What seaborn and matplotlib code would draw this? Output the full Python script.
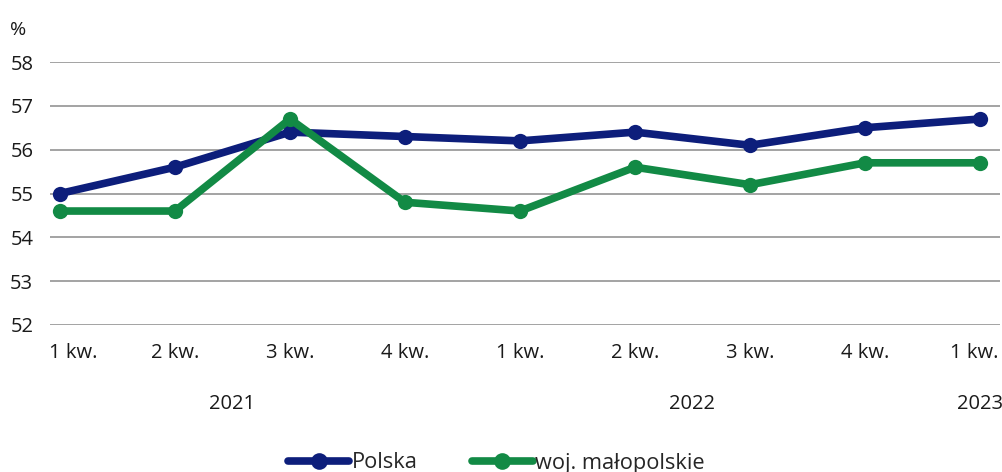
import pandas as pd
import matplotlib.pyplot as plt
import matplotlib.transforms as mtransforms
import seaborn as sns

# dane kwartalne
kwartaly = ["1 kw.", "2 kw.", "3 kw.", "4 kw.", "1 kw.", "2 kw.", "3 kw.", "4 kw.", "1 kw."]
lata = ["2021", "2022", "2023"]
lata_pozycje = [1.5, 5.5, 8]
polska = [55.0, 55.6, 56.4, 56.3, 56.2, 56.4, 56.1, 56.5, 56.7]
malopolskie = [54.6, 54.6, 56.7, 54.8, 54.6, 55.6, 55.2, 55.7, 55.7]

df = pd.DataFrame({
    "idx": list(range(len(kwartaly))) * 2,
    "wartosc": polska + malopolskie,
    "seria": ["Polska"] * len(polska) + ["woj. małopolskie"] * len(malopolskie),
})

sns.set_style("white")
plt.rcParams["font.family"] = ["Open Sans", "DejaVu Sans"]

fig = plt.figure(figsize=(10.03, 4.72), dpi=100)
ax = fig.add_axes([50 / 1003, 1 - 325 / 472, 950 / 1003, (325 - 62) / 472])

kolory = {"Polska": "#0d1e7b", "woj. małopolskie": "#128a45"}
sns.lineplot(data=df, x="idx", y="wartosc", hue="seria", palette=kolory,
             marker="o", markersize=11, linewidth=5.5, markeredgewidth=0,
             ax=ax, legend=False)

ax.set_ylim(52, 58)
ax.set_xlim(-10 / 115, 8 + 20 / 115)
ax.set_yticks(range(52, 59))
ax.yaxis.grid(True, color="#8a8a8a", linewidth=1.1)
ax.set_axisbelow(True)
for s in ax.spines.values():
    s.set_visible(False)
ax.set_xticks(range(len(kwartaly)))
ax.set_xticklabels(kwartaly)
ax.tick_params(axis="both", length=0, labelsize=14.5, colors="#1a1a1a")
ax.tick_params(axis="x", pad=13)
ax.tick_params(axis="y", pad=12)
# pierwsza i ostatnia etykieta lekko przesunięte, jak w oryginale
etyk = ax.get_xticklabels()
etyk[0].set_transform(etyk[0].get_transform()
                      + mtransforms.ScaledTranslation(0.13, 0, fig.dpi_scale_trans))
etyk[-1].set_transform(etyk[-1].get_transform()
                       + mtransforms.ScaledTranslation(-0.06, 0, fig.dpi_scale_trans))
ax.set_xlabel("")
ax.set_ylabel("")

for rok, poz in zip(lata, lata_pozycje):
    ax.text(poz, -0.3, rok, transform=ax.get_xaxis_transform(), ha="center",
            va="center", fontsize=14.5, color="#1a1a1a")

fig.text(10 / 1003, 1 - 30 / 472, "%", fontsize=14, color="#1a1a1a", va="center")

uchwyty = [plt.Line2D([], [], color=kolory[k], linewidth=5.5, marker="o",
                      markersize=12, markeredgewidth=0) for k in kolory]
fig.legend(uchwyty, list(kolory), loc="center", bbox_to_anchor=(0.495, 1 - 463 / 472),
           ncol=2, frameon=False, fontsize=15.7, handlelength=2.8, handletextpad=0.1,
           columnspacing=2.5)

fig.savefig("out.png", dpi=100)
